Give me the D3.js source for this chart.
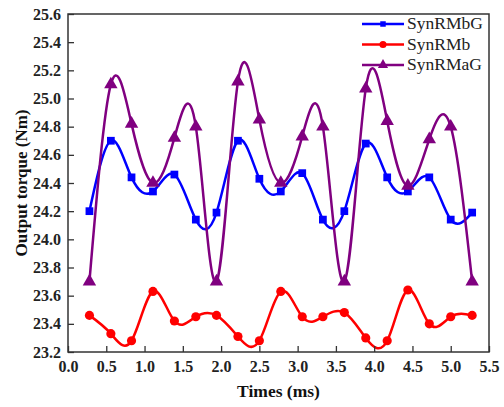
<!DOCTYPE html>
<html>
<head>
<meta charset="utf-8">
<script src="https://cdn.jsdelivr.net/npm/d3@7"></script>
<style>
  body { margin: 0; background: #fff; }
  text { font-family: "Liberation Serif", "Times New Roman", serif; }
</style>
</head>
<body>
<script>
// time points (ms)
var times = [0.28, 0.56, 0.83, 1.11, 1.39, 1.67, 1.94, 2.22, 2.50, 2.78,
             3.06, 3.33, 3.61, 3.89, 4.17, 4.44, 4.72, 5.00, 5.28];

var synRMbG = [24.20, 24.70, 24.44, 24.34, 24.46, 24.14, 24.19, 24.70, 24.43, 24.34,
               24.47, 24.14, 24.20, 24.68, 24.44, 24.34, 24.44, 24.14, 24.19];
var synRMb = [23.46, 23.33, 23.28, 23.63, 23.42, 23.45, 23.46, 23.31, 23.28, 23.63,
              23.45, 23.45, 23.48, 23.30, 23.28, 23.64, 23.40, 23.45, 23.46];
var synRMaG = [23.70, 25.10, 24.82, 24.40, 24.72, 24.80, 23.70, 25.12, 24.85, 24.40,
               24.73, 24.80, 23.70, 25.07, 24.84, 24.38, 24.71, 24.80, 23.70];

var xTicks = [0.0, 0.5, 1.0, 1.5, 2.0, 2.5, 3.0, 3.5, 4.0, 4.5, 5.0, 5.5];
var yTicks = [23.2, 23.4, 23.6, 23.8, 24.0, 24.2, 24.4, 24.6, 24.8, 25.0, 25.2, 25.4, 25.6];

var seriesNames = ["SynRMbG", "SynRMb", "SynRMaG"];
var seriesColors = ["#0000ff", "#ff0000", "#800080"];
var seriesSymbols = [d3.symbolSquare, d3.symbolCircle, d3.symbolTriangle];

var width = 504, height = 407;
var margin = {top: 14, right: 15, bottom: 55, left: 68};

var svg = d3.select("body").append("svg")
    .attr("width", width)
    .attr("height", height);

var x = d3.scaleLinear().domain([0, 5.5]).range([margin.left, width - margin.right]);
var y = d3.scaleLinear().domain([23.2, 25.6]).range([height - margin.bottom, margin.top]);

// lines + markers (spline through the points)
var allSeries = [synRMbG, synRMb, synRMaG];
var line = d3.line()
    .x(function(d, i) { return x(times[i]); })
    .y(function(d) { return y(d); })
    .curve(d3.curveNatural);

var symbolSizes = [60, 66, 78];
var legendSizes = [30, 40, 45];

allSeries.forEach(function(vals, k) {
    var g = svg.append("g");
    g.append("path")
        .attr("d", line(vals))
        .attr("fill", "none")
        .attr("stroke", seriesColors[k])
        .attr("stroke-width", 2.5);
    g.selectAll("path.pt").data(vals).enter().append("path")
        .attr("class", "pt")
        .attr("transform", function(d, i) { return "translate(" + x(times[i]) + "," + y(d) + ")"; })
        .attr("d", d3.symbol().type(seriesSymbols[k]).size(symbolSizes[k]))
        .attr("fill", seriesColors[k]);
});

// axes (ticks inside)
var xAxis = svg.append("g")
    .attr("transform", "translate(0," + (height - margin.bottom) + ")")
    .call(d3.axisBottom(x).tickValues(xTicks).tickFormat(d3.format(".1f")).tickSizeInner(-6).tickSizeOuter(0).tickPadding(9));
var yAxis = svg.append("g")
    .attr("transform", "translate(" + margin.left + ",0)")
    .call(d3.axisLeft(y).tickValues(yTicks).tickFormat(d3.format(".1f")).tickSizeInner(-6).tickSizeOuter(0).tickPadding(7));

[xAxis, yAxis].forEach(function(a) {
    a.select(".domain").remove();
    a.selectAll(".tick line").attr("stroke", "#333").attr("stroke-width", 1.3);
    a.selectAll(".tick text")
        .attr("fill", "#222")
        .style("font-size", "16px")
        .style("font-weight", "bold")
        .style("font-family", "'Liberation Serif', serif");
});

// frame
svg.append("rect")
    .attr("x", margin.left)
    .attr("y", margin.top)
    .attr("width", width - margin.left - margin.right)
    .attr("height", height - margin.top - margin.bottom)
    .attr("fill", "none")
    .attr("stroke", "#333")
    .attr("stroke-width", 1.5);

// axis titles
svg.append("text")
    .attr("x", (margin.left + width - margin.right) / 2)
    .attr("y", 397)
    .attr("text-anchor", "middle")
    .style("font-size", "17.5px")
    .style("font-weight", "bold")
    .attr("fill", "#111")
    .text("Times (ms)");

svg.append("text")
    .attr("transform", "translate(27," + ((margin.top + height - margin.bottom) / 2) + ") rotate(-90)")
    .attr("text-anchor", "middle")
    .style("font-size", "17px")
    .style("font-weight", "bold")
    .attr("fill", "#111")
    .text("Output torque (Nm)");

// legend
var legend = svg.append("g").attr("transform", "translate(362,24)");
seriesNames.forEach(function(name, k) {
    var row = legend.append("g").attr("transform", "translate(0," + (k * 20.5) + ")");
    row.append("line")
        .attr("x1", 0).attr("x2", 42)
        .attr("stroke", seriesColors[k])
        .attr("stroke-width", 2.5);
    row.append("path")
        .attr("transform", "translate(21,0)")
        .attr("d", d3.symbol().type(seriesSymbols[k]).size(legendSizes[k]))
        .attr("fill", seriesColors[k]);
    row.append("text")
        .attr("x", 45)
        .attr("y", 5)
        .style("font-size", "17.5px")
        .attr("fill", "#222")
        .text(name);
});
</script>
</body>
</html>
